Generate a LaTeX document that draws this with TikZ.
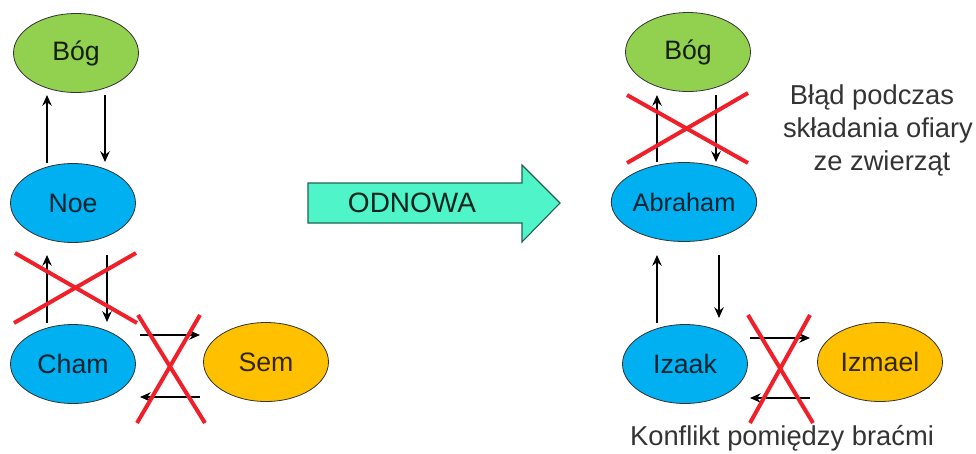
\documentclass[tikz,border=0pt]{standalone}
\usepackage{fontspec}
\setmainfont{Liberation Sans}
\usetikzlibrary{shapes.geometric,arrows.meta}
\definecolor{gfill}{HTML}{92D050}
\definecolor{bfill}{HTML}{00B0F0}
\definecolor{ofill}{HTML}{FFC000}
\definecolor{afill}{HTML}{4FF5C8}
\definecolor{xred}{HTML}{F0202A}
\definecolor{tgray}{HTML}{333333}
\begin{document}
\begin{tikzpicture}[x=0.75pt,y=-0.75pt,
  oval/.style={ellipse,draw=black!80,line width=0.6pt,minimum width=125*0.75pt,minimum height=79*0.75pt,inner sep=0pt,font=\fontsize{20}{22}\selectfont},
  god/.style={oval,fill=gfill,text=black!85!gfill},
  man/.style={oval,fill=bfill,text=black!80!bfill},
  other/.style={oval,fill=ofill,text=black!80!ofill},
  link/.style={line width=2pt,-{Stealth[length=8pt,width=7pt]}},
  cross/.style={xred,line width=3pt},
  note/.style={text=tgray,font=\fontsize{20.5}{22}\selectfont}]
\useasboundingbox (0,0) rectangle (976,454);
% left column
\node[god] (b1) at (76,53) {Bóg};
\node[man] (n) at (73,203) {Noe};
\node[man] (c) at (73,364) {Cham};
\node[other] (s) at (266,362) {Sem};
% right column
\node[god] (b2) at (688,52) {Bóg};
\node[man,font=\fontsize{19}{21}\selectfont] (a) at (684,202) {Abraham};
\node[man] (i) at (685,364) {Izaak};
\node[other] (iz) at (880,362) {Izmael};
% arrows left
\draw[link] (47,163) -- (47,95);
\draw[link] (105,95) -- (105,162);
\draw[link] (47,323) -- (47,255);
\draw[link] (107,255) -- (107,322);
\draw[link] (140,335) -- (200,335);
\draw[link] (200,397) -- (140,397);
% arrows right
\draw[link] (657,162) -- (657,95);
\draw[link] (716,95) -- (716,162);
\draw[link] (657,323) -- (657,255);
\draw[link] (719,255) -- (719,318);
\draw[link] (750,338) -- (810,338);
\draw[link] (810,398) -- (750,398);
% red crosses
\draw[cross] (14,323) -- (136,253);
\draw[cross] (15,253) -- (137,323);
\draw[cross] (138,315) -- (205,423);
\draw[cross] (200,315) -- (137,423);
\draw[cross] (627,163) -- (748,93);
\draw[cross] (627,95) -- (748,163);
\draw[cross] (748,315) -- (813,423);
\draw[cross] (810,315) -- (750,423);
% big arrow
\draw[fill=afill,draw=black!60!afill,line width=0.8pt]
  (308,183) -- (522,183) -- (522,165) -- (560,203) -- (522,242) -- (522,223) -- (308,223) -- cycle;
\node[note,text=black!85!afill,font=\fontsize{21}{22}\selectfont] (od) at (412,203) {ODNOWA};
% notes
\node[note] (t1) at (872,97) {Błąd podczas};
\node[note] (t2) at (878,130) {składania ofiary};
\node[note] (t3) at (882,163) {ze zwierząt};
\node[note,anchor=base] (t4) at (782,445) {Konflikt pomiędzy braćmi};
\end{tikzpicture}
\end{document}
